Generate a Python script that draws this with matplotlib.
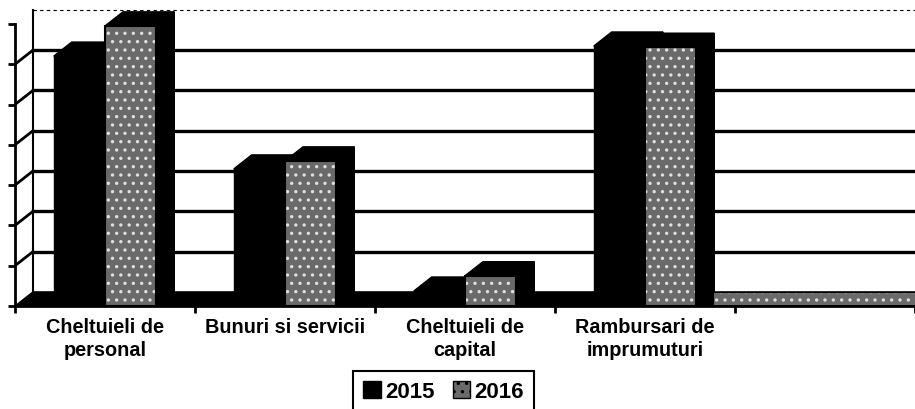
import numpy as np
import matplotlib
matplotlib.use("Agg")
import matplotlib.pyplot as plt
from matplotlib.patches import Polygon, Patch

plt.rcParams['font.family'] = ['Liberation Sans', 'DejaVu Sans']
plt.rcParams['hatch.linewidth'] = 1.2

categories = ['Cheltuieli de\npersonal', 'Bunuri si servicii',
              'Cheltuieli de\ncapital', 'Rambursari de\nimprumuturi', '']
vals_2015 = [6.2, 3.4, 0.37, 6.45]
vals_2016 = [6.95, 3.6, 0.75, 6.42]
series = ['2015', '2016']

n_slots = len(categories)
bar_w = 0.285          # width of one bar, in category units
dx, dy = 0.1, 0.35     # depth offset of the 3d look
y_max = 7
tex_color = '#6a6a6a'

fig = plt.figure(figsize=(9.15, 4.10), dpi=100)
ax = fig.add_axes([15 / 915, 103 / 410, 900 / 915, (307 - 8.8) / 410])
ax.set_xlim(-0.5, n_slots - 0.5)
ax.set_ylim(0, 7.4)

# back wall + left wall grid
x0 = -0.5
for v in range(1, y_max + 1):
    if v < y_max:
        ax.plot([x0 + dx, n_slots], [v + dy, v + dy], color='black', lw=2.4,
                zorder=1, clip_on=False)
        ax.plot([x0, x0 + dx], [v, v + dy], color='black', lw=2.0, zorder=1)
    else:
        ax.plot([x0 + dx, n_slots], [v + dy, v + dy], color='black', lw=0.8,
                ls=(0, (3, 3)), zorder=1, clip_on=False)
ax.plot([x0 + dx, x0 + dx], [dy, y_max + dy], color='black', lw=1.5, zorder=1)

# floor
ax.add_patch(Polygon([(x0, 0), (n_slots, 0), (n_slots + dx, dy), (x0 + dx, dy)],
                     closed=True, facecolor='black', edgecolor='black', zorder=2))

x = np.arange(len(vals_2015))
for k, vals in enumerate([vals_2015, vals_2016]):
    left = x - bar_w + k * bar_w
    for xl, v in zip(left, vals):
        # right side face
        ax.add_patch(Polygon([(xl + bar_w, 0), (xl + bar_w + dx, dy),
                              (xl + bar_w + dx, v + dy), (xl + bar_w, v)],
                             closed=True, facecolor='black', edgecolor='black',
                             lw=1, zorder=3 + k))
        # top face
        ax.add_patch(Polygon([(xl, v), (xl + dx, v + dy),
                              (xl + bar_w + dx, v + dy), (xl + bar_w, v)],
                             closed=True, facecolor='black', edgecolor='black',
                             lw=1, zorder=3 + k))
    if k == 0:
        ax.bar(left, vals, bar_w, align='edge', color='black',
               edgecolor='black', lw=1, zorder=3.5)
    else:
        ax.bar(left, vals, bar_w, align='edge', color=tex_color, hatch='..',
               edgecolor='#e0e0e0', lw=0, zorder=4.5)
        # black outline of the textured fronts
        ax.bar(left, vals, bar_w, align='edge', fill=False,
               edgecolor='black', lw=1.5, zorder=4.6)

# textured floor strip right of the last bar
x_end = x[-1] + bar_w + dx
ax.add_patch(Polygon([(x_end, 0.02), (n_slots, 0.02), (n_slots, dy - 0.02),
                      (x_end, dy - 0.02)], closed=True, facecolor=tex_color,
                     hatch='..', edgecolor='#e0e0e0', lw=0, zorder=2.5))

# axes
for s in ['top', 'right']:
    ax.spines[s].set_visible(False)
ax.spines['left'].set_bounds(0, y_max)
ax.spines['left'].set_linewidth(2)
ax.spines['bottom'].set_linewidth(2)
ax.spines['left'].set_zorder(6)
ax.spines['bottom'].set_zorder(6)
ax.set_yticks(range(0, y_max + 1))
ax.set_yticklabels([])
ax.tick_params(axis='y', length=5, width=2, direction='out')

ax.set_xticks(np.arange(n_slots))
ax.set_xticklabels(categories, fontsize=14.3, fontweight='bold', linespacing=1.25)
ax.tick_params(axis='x', which='major', length=0, pad=8)
ax.set_xticks(np.arange(n_slots + 1) - 0.5, minor=True)
ax.tick_params(axis='x', which='minor', length=5, width=2, direction='out')

handles = [Patch(facecolor='black', edgecolor='black', label=series[0]),
           Patch(facecolor=tex_color, hatch='..', edgecolor='black', label=series[1])]
leg = fig.legend(handles=handles, loc='upper left', bbox_to_anchor=(353 / 915, 38 / 410),
                 ncol=2, fancybox=False, edgecolor='black', framealpha=1,
                 prop={'size': 16, 'weight': 'bold'}, handlelength=0.8,
                 handleheight=0.8, handletextpad=0.2, columnspacing=0.8,
                 borderaxespad=0, borderpad=0.45)
leg.get_frame().set_linewidth(1.5)

fig.savefig('out.png', dpi=100)
